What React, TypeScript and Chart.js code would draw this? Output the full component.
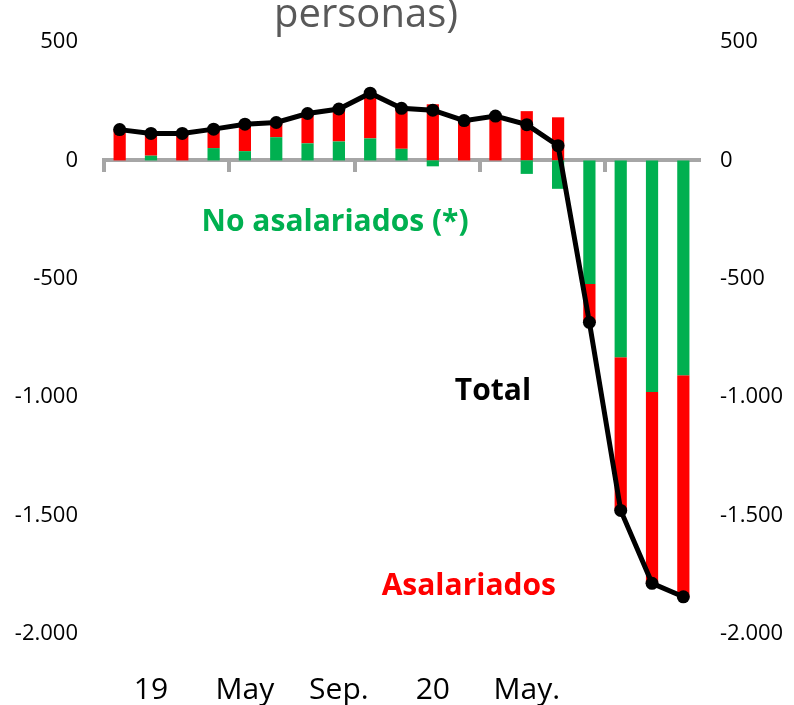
import React, { useEffect, useRef } from "react";
import { Chart, registerables } from "chart.js";

Chart.register(...registerables);

// ---- data ----
const categories = ["", "19", "", "", "May", "", "", "Sep.", "", "", "20", "", "", "May.", "", "", "", "", ""];
const noAsalariados = [0, 20, 0, 52, 39, 98, 72, 80, 93, 49, -25, 0, 0, -57, -120, -522, -831, -978, -907];
const asalariados = [130, 94, 114, 80, 114, 62, 126, 137, 191, 171, 237, 168, 187, 208, 182, -162, -647, -808, -936];
const total = [130, 114, 114, 132, 153, 160, 198, 217, 284, 220, 212, 168, 187, 151, 62, -684, -1478, -1786, -1843];
const yMin = -2000;
const yMax = 500;
const yStep = 500;
const titleText = "personas)";

const GREEN = "#00B050";
const RED = "#FF0000";
const BLACK = "#000000";
const GRAY = "#A6A6A6";
const FONT = "'Open Sans', 'DejaVu Sans', sans-serif";

// in-chart series labels (anchored in data space: category index, value)
const seriesLabels = [
  { text: "No asalariados (*)", color: GREEN, index: 6.88, value: -262 },
  { text: "Total", color: BLACK, index: 11.92, value: -975 },
  { text: "Asalariados", color: RED, index: 11.15, value: -1799 },
];

const fmt = (v: number) => {
  const s = Math.abs(v).toString().replace(/\B(?=(\d{3})+(?!\d))/g, ".");
  return (v < 0 ? "-" : "") + s;
};

const labelsPlugin = {
  id: "seriesLabels",
  afterDatasetsDraw(chart: any) {
    const ctx = chart.ctx;
    const xs = chart.scales.x;
    const ys = chart.scales.y;
    ctx.save();
    ctx.font = `bold 30px ${FONT}`;
    ctx.textAlign = "center";
    ctx.textBaseline = "middle";
    for (const l of seriesLabels) {
      ctx.fillStyle = l.color;
      ctx.fillText(l.text, xs.getPixelForValue(l.index), ys.getPixelForValue(l.value));
    }
    ctx.restore();
  },
  afterDraw(chart: any) {
    const ctx = chart.ctx;
    ctx.save();
    ctx.font = `40px ${FONT}`;
    ctx.fillStyle = "#595959";
    ctx.textAlign = "center";
    ctx.textBaseline = "alphabetic";
    ctx.fillText(titleText, 366, 27);
    ctx.restore();
  },
};

export default function App() {
  const ref = useRef<HTMLCanvasElement | null>(null);
  useEffect(() => {
    if (!ref.current) return;
    const yAxisCommon = (padding: number) => ({
      min: yMin,
      max: yMax,
      stacked: true,
      grid: { display: false, drawTicks: false },
      border: { display: false },
      ticks: {
        stepSize: yStep,
        callback: (v: any) => fmt(Number(v)),
        font: { family: FONT, size: 22 },
        color: BLACK,
        padding,
      },
    });
    const chart = new Chart(ref.current, {
      type: "bar",
      data: {
        labels: categories,
        datasets: [
          {
            type: "line",
            label: "Total",
            data: total,
            borderColor: BLACK,
            backgroundColor: BLACK,
            borderWidth: 5,
            pointRadius: 6.5,
            pointBackgroundColor: BLACK,
            pointBorderWidth: 0,
            stack: "total",
            tension: 0,
          } as any,
          {
            type: "bar",
            label: "No asalariados (*)",
            data: noAsalariados,
            backgroundColor: GREEN,
            stack: "s",
          },
          {
            type: "bar",
            label: "Asalariados",
            data: asalariados,
            backgroundColor: RED,
            stack: "s",
          },
        ],
      },
      options: {
        animation: false,
        responsive: true,
        maintainAspectRatio: false,
        datasets: { bar: { barPercentage: 0.39, categoryPercentage: 1 } },
        layout: { padding: { left: 8, right: 0, top: 42, bottom: 0 } },
        plugins: { legend: { display: false }, tooltip: { enabled: false }, title: { display: false } },
        scales: {
          x: {
            type: "category",
            position: "bottom",
            stacked: true,
            grid: { display: false, drawTicks: false },
            border: { display: false },
            ticks: {
              autoSkip: false,
              maxRotation: 0,
              font: { family: FONT, size: 30 },
              color: BLACK,
              padding: 38,
            },
            afterFit: (s: any) => {
              s.height = 71;
            },
          },
          x2: {
            type: "category",
            position: { y: 0 } as any,
            offset: true,
            z: 1,
            grid: {
              offset: true,
              drawOnChartArea: false,
              drawTicks: true,
              tickLength: 10,
              lineWidth: 4,
              color: (c: any) => (c.index % 4 === 0 ? GRAY : "rgba(0,0,0,0)"),
            },
            border: { display: true, color: GRAY, width: 4 },
            ticks: { display: false },
          } as any,
          y: {
            position: "left",
            ...yAxisCommon(26),
            afterFit: (s: any) => {
              s.width = 96;
            },
          } as any,
          y2: {
            position: "right",
            ...yAxisCommon(21),
            afterFit: (s: any) => {
              s.width = 95;
            },
          } as any,
        },
      },
      plugins: [labelsPlugin],
    });
    return () => chart.destroy();
  }, []);
  return (
    <div style={{ position: "fixed", left: 0, top: 0, width: 794, height: 705, background: "#fff" }}>
      <canvas ref={ref} />
    </div>
  );
}
